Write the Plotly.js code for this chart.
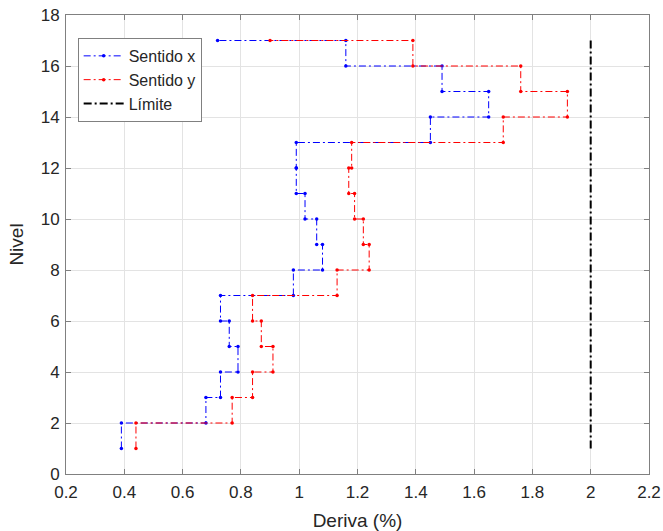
<!DOCTYPE html>
<html>
<head>
<meta charset="utf-8">
<script src="https://cdn.plot.ly/plotly-3.0.1.min.js"></script>
<style>html,body{margin:0;padding:0;background:#fff;}#chart{width:663px;height:531px;}</style>
</head>
<body>
<div id="chart"></div>
<script>
// Story levels (story i spans level i to i+1)
const levels = [1,2,3,4,5,6,7,8,9,10,11,12,13,14,15,16,17];
// Drift per story (%)
const driftX = [0.39,0.68,0.73,0.79,0.76,0.73,0.98,1.08,1.06,1.02,0.99,0.99,1.45,1.65,1.49,1.16,0.72];
const driftY = [0.44,0.77,0.84,0.91,0.87,0.84,1.13,1.24,1.22,1.19,1.17,1.18,1.70,1.92,1.76,1.39,0.90];
// Drift limit
const limitValue = 2;
const limitLevels = [1,17];
const seriesNames = ["Sentido x","Sentido y","Límite"];
const xTicks = [0.2,0.4,0.6,0.8,1,1.2,1.4,1.6,1.8,2,2.2];
const xTickText = ["0.2","0.4","0.6","0.8","1","1.2","1.4","1.6","1.8","2","2.2"];

function stepPath(d){
  const xs=[], ys=[];
  for(let i=0;i<levels.length;i++){
    xs.push(d[i]); ys.push(levels[i]);
    if(i<levels.length-1){ xs.push(d[i]); ys.push(levels[i+1]); }
  }
  return {x:xs,y:ys};
}
const px = stepPath(driftX), py = stepPath(driftY);
const fam = "Arial, 'Liberation Sans', sans-serif";
const tickFont = {family:fam, size:17, color:"#262626"};
const titleFont = {family:fam, size:19, color:"#262626"};
const traces = [
  {x:px.x,y:px.y,name:seriesNames[0],mode:"lines+markers",
   line:{color:"rgb(0,0,255)",width:1,dash:"7px,3px,2px,3px"},marker:{color:"rgb(0,0,255)",size:3.5}},
  {x:py.x,y:py.y,name:seriesNames[1],mode:"lines+markers",
   line:{color:"rgb(255,0,0)",width:1,dash:"7px,3px,2px,3px"},marker:{color:"rgb(255,0,0)",size:3.5}},
  {x:limitLevels.map(()=>limitValue),y:limitLevels,name:seriesNames[2],mode:"lines",
   line:{color:"#000",width:2,dash:"8px,3px,2px,3px"}}
];
const axisCommon = {showgrid:true,gridcolor:"#e3e3e3",gridwidth:1,zeroline:false,
  showline:true,linecolor:"#808080",linewidth:1,mirror:"ticks",ticks:"inside",ticklen:5,
  tickcolor:"#808080",tickfont:tickFont};
const layout = {
  width:663,height:531,margin:{l:66,r:14,t:15,b:57},
  paper_bgcolor:"#fff",plot_bgcolor:"#fff",font:tickFont,showlegend:true,
  xaxis:Object.assign({},axisCommon,{range:[0.2,2.2],tickvals:xTicks,ticktext:xTickText,
    ticklabelstandoff:3,
    title:{text:"Deriva (%)",font:titleFont,standoff:12}}),
  yaxis:Object.assign({},axisCommon,{range:[0,18],dtick:2,ticklabelstandoff:2,
    title:{text:"Nivel",font:titleFont,standoff:12}}),
  legend:{x:0.02,y:0.95,xanchor:"left",yanchor:"top",bgcolor:"#fff",bordercolor:"#808080",borderwidth:1,
    font:{family:fam,size:16,color:"#262626"},tracegroupgap:0,itemwidth:40}
};
Plotly.newPlot("chart",traces,layout,{displayModeBar:false,staticPlot:true});
</script>
</body>
</html>
